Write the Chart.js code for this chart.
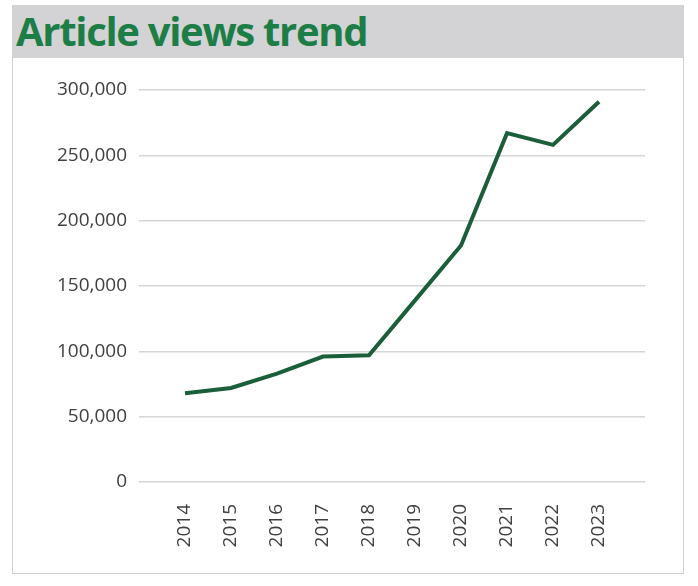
<!DOCTYPE html>
<html>
<head>
<meta charset="utf-8">
<script src="https://cdn.jsdelivr.net/npm/chart.js@4"></script>
<style>
  html, body { margin: 0; padding: 0; background: #fff; }
  #wrap { position: relative; width: 698px; height: 586px; }
  #titlebar {
    position: absolute; left: 12px; top: 5px; width: 672px; height: 53px;
    background: #d3d3d5;
  }
  #title {
    position: absolute; left: 4px; top: 1px; margin: 0;
    font-family: "Open Sans", sans-serif; font-weight: 700; font-size: 40px;
    letter-spacing: -1.3px; color: #1c7d46; line-height: 50px; white-space: nowrap;
  }
  #box {
    position: absolute; left: 12px; top: 58px; width: 670px; height: 515px;
    border: 1px solid #d0d0d0; border-top: none;
  }
  canvas { position: absolute; left: 0; top: 0; }
</style>
</head>
<body>
<div id="wrap">
  <div id="titlebar"><h1 id="title">Article views trend</h1></div>
  <div id="box"></div>
  <canvas id="viewsChart" width="698" height="586"></canvas>
</div>
<script>
const years = [2014, 2015, 2016, 2017, 2018, 2019, 2020, 2021, 2022, 2023];
const views = [68000, 72000, 83000, 96000, 97000, 139000, 181000, 267000, 258000, 291000];
const yTicks = [0, 50000, 100000, 150000, 200000, 250000, 300000];

const ctx = document.getElementById('viewsChart').getContext('2d');
new Chart(ctx, {
  type: 'line',
  data: {
    datasets: [
      {
        label: 'Article views',
        data: years.map((yr, i) => ({ x: yr, y: views[i] })),
        borderColor: '#1b5e3a',
        borderWidth: 4,
        pointRadius: 0,
        fill: false,
        tension: 0,
      },
    ],
  },
  options: {
    responsive: false,
    animation: false,
    layout: { padding: { left: 0, right: 53, top: 90, bottom: 0 } },
    plugins: { legend: { display: false }, tooltip: { enabled: false } },
    scales: {
      x: {
        type: 'linear',
        min: years[0] - 1,
        max: years[years.length - 1] + 1,
        afterBuildTicks: scale => { scale.ticks = years.map(v => ({ value: v })); },
        afterFit: scale => { scale.height = 586 - 482; },
        grid: { display: false },
        border: { display: false },
        ticks: {
          minRotation: 90,
          maxRotation: 90,
          padding: 14,
          color: '#404040',
          font: { family: 'Open Sans', size: 19 },
          callback: v => String(v),
        },
      },
      y: {
        min: 0,
        max: 300000,
        afterBuildTicks: scale => { scale.ticks = yTicks.map(v => ({ value: v })); },
        afterFit: scale => { scale.width = 139; },
        grid: { color: '#d6d6d6', lineWidth: 1.5, drawTicks: false },
        border: { display: false },
        ticks: {
          padding: 12,
          color: '#404040',
          font: { family: 'Open Sans', size: 19 },
          callback: v => v.toLocaleString('en-US'),
        },
      },
    },
  },
});
</script>
</body>
</html>
